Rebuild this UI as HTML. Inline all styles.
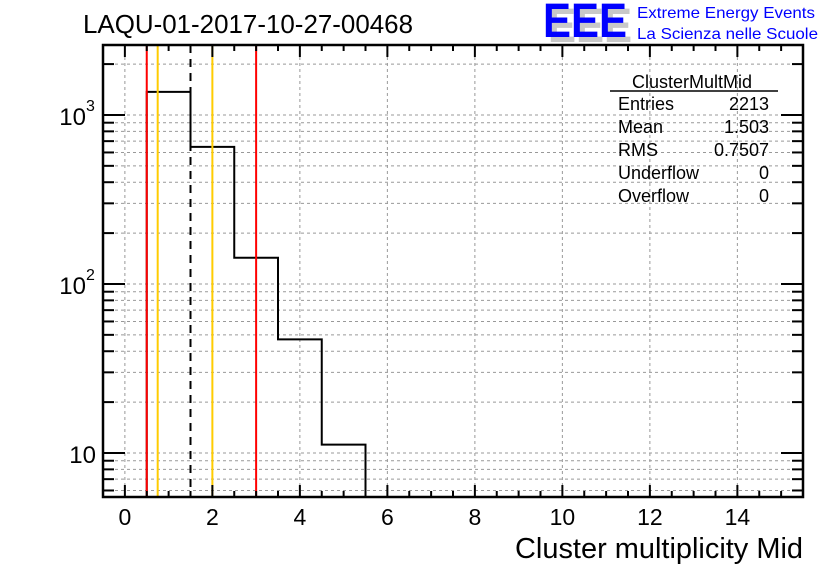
<!DOCTYPE html>
<html><head><meta charset="utf-8">
<style>
body{margin:0;background:#fff;}
svg text{font-family:"Liberation Sans",sans-serif;}
</style></head>
<body>
<svg id="chart" width="836" height="572" viewBox="0 0 836 572" xmlns="http://www.w3.org/2000/svg">
<rect width="836" height="572" fill="#fff"/>
<text x="83" y="33" font-size="25.5" textLength="330" lengthAdjust="spacingAndGlyphs">LAQU-01-2017-10-27-00468</text>
<g>
<text x="548" y="42" font-size="48" font-weight="bold" fill="#c8c8c8" textLength="84" lengthAdjust="spacingAndGlyphs">EEE</text>
<text x="543" y="37" font-size="48" font-weight="bold" fill="#0000ff" textLength="84" lengthAdjust="spacingAndGlyphs">EEE</text>
<text x="637" y="18" font-size="16" fill="#0000ff" textLength="178" lengthAdjust="spacingAndGlyphs">Extreme Energy Events</text>
<text x="637" y="39" font-size="16" fill="#0000ff" textLength="181" lengthAdjust="spacingAndGlyphs">La Scienza nelle Scuole</text>
</g>
<g id="grid"></g>
<g id="marks"></g>
<g id="axes"></g>
<g font-size="18">
<text x="692" y="88" text-anchor="middle">ClusterMultMid</text>
<line x1="610" y1="91" x2="778" y2="91" stroke="#000" stroke-width="1.5"/>
<text x="618" y="110">Entries</text><text x="769" y="110" text-anchor="end">2213</text>
<text x="618" y="133">Mean</text><text x="769" y="133" text-anchor="end">1.503</text>
<text x="618" y="156">RMS</text><text x="769" y="156" text-anchor="end">0.7507</text>
<text x="618" y="179">Underflow</text><text x="769" y="179" text-anchor="end">0</text>
<text x="618" y="202">Overflow</text><text x="769" y="202" text-anchor="end">0</text>
</g>
<text x="803" y="558" font-size="29" text-anchor="end" textLength="288" lengthAdjust="spacingAndGlyphs">Cluster multiplicity Mid</text>
</svg>
<script>
const binLow = [0.5, 1.5, 2.5, 3.5, 4.5];
const binCounts = [1369, 647, 143, 47, 11.2];
const vLines = [0.5, 0.75, 1.5, 2.0, 3.0];
const vLineColors = ["#ff0000", "#ffcc00", "#000000", "#ffcc00", "#ff0000"];
const xTickLabels = ["0","2","4","6","8","10","12","14"];
const yDecades = [1, 2, 3];

const L=103,R=803,T=45,B=497;
const xMin=-0.5,xMax=15.5;
const yLogMin=Math.log10(5.49), yLogMax=Math.log10(2594);
const X=v=>L+(v-xMin)/(xMax-xMin)*(R-L);
const Y=v=>B-(Math.log10(v)-yLogMin)/(yLogMax-yLogMin)*(B-T);
const NS="http://www.w3.org/2000/svg";
function mk(tag,attrs,parent){const e=document.createElementNS(NS,tag);for(const k in attrs)e.setAttribute(k,attrs[k]);parent.appendChild(e);return e;}
const grid=document.getElementById('grid'),marks=document.getElementById('marks'),axes=document.getElementById('axes');

xTickLabels.forEach(t=>{const x=X(+t);
 const g=mk('line',{x1:x,y1:T,x2:x,y2:B,stroke:'#999','stroke-dasharray':'3,3','stroke-width':1},grid);
 
 
});
for(let d=0;d<=3;d++){for(let m=1;m<=9;m++){const v=m*Math.pow(10,d);const y=Y(v);if(y<T||y>B)continue;
 const g=mk('line',{x1:L,y1:y,x2:R,y2:y,stroke:'#999','stroke-dasharray':'3,3','stroke-width':1},grid);
 
 
 const isMaj=(m===1);const len=isMaj?22:11;
 const t1=mk('line',{x1:L,y1:y,x2:L+len,y2:y,stroke:'#000','stroke-width':2},axes);
 
 
 const t2=mk('line',{x1:R,y1:y,x2:R-len,y2:y,stroke:'#000','stroke-width':2},axes);
 
 
}}

let d='';
binLow.forEach((lo,i)=>{const y=Y(binCounts[i]);
 if(i===0)d+=`M${X(lo)},${B}L${X(lo)},${y}`;else d+=`L${X(lo)},${y}`;
 d+=`L${X(lo+1)},${y}`;});
d+=`L${X(binLow[binLow.length-1]+1)},${B}`;
const h=mk('path',{d:d,fill:'none',stroke:'#000','stroke-width':2},marks);



vLines.forEach((v,i)=>{const a={x1:X(v),y1:T,x2:X(v),y2:B,stroke:vLineColors[i],'stroke-width':2};
 if(vLineColors[i]==='#000000')a['stroke-dasharray']='8,6';
 const l=mk('line',a,marks);
 
 
});

const f=mk('rect',{x:L,y:T,width:R-L,height:B-T,fill:'none',stroke:'#000','stroke-width':2.5},axes);



for(let v=0;v<=15;v+=0.5){const x=X(v);const maj=(v%2===0);const len=maj?12:6;
 const t=mk('line',{x1:x,y1:B,x2:x,y2:B-len,stroke:'#000','stroke-width':2},axes);
 
 
 const t2=mk('line',{x1:x,y1:T,x2:x,y2:T+len,stroke:'#000','stroke-width':2},axes);
 
 
}
xTickLabels.forEach(t=>{const e=mk('text',{x:X(+t),y:525,'font-size':23,'text-anchor':'middle'},axes);e.textContent=t;
 
 
});
yDecades.forEach(p=>{const y=Y(Math.pow(10,p));
 const e=mk('text',{x:p===1?96:86,y:y+10,'font-size':24,'text-anchor':'end'},axes);e.textContent='10';
 
 
 if(p>1){const s=mk('text',{x:86,y:y-4,'font-size':16},axes);s.textContent=String(p);
 
 }
});
</script>
</body></html>
